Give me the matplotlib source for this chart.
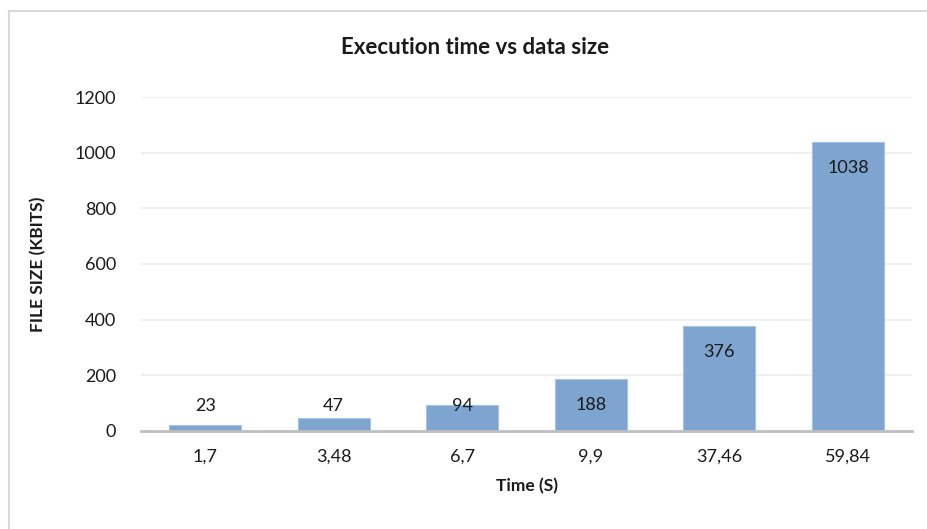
import numpy as np
import matplotlib.pyplot as plt
from matplotlib.lines import Line2D

# data
times = ["1,7", "3,48", "6,7", "9,9", "37,46", "59,84"]
file_size = [23, 47, 94, 188, 376, 1038]

plt.rcParams['font.family'] = ['Lato', 'DejaVu Sans']

fig = plt.figure(figsize=(9.27, 5.29), dpi=100)
ax = fig.add_axes([0.152, 0.1853, 0.832, 0.6313])

# chart border (only top and left visible)
fig.add_artist(Line2D([0.010, 1.0], [0.979, 0.979], color='#D9D9D9', lw=1.5))
fig.add_artist(Line2D([0.010, 0.010], [0.0, 0.979], color='#D9D9D9', lw=1.5))

x = np.arange(len(times))
bars = ax.bar(x, file_size, width=0.56, color='#7DA5D0', edgecolor='#A8C3E2', linewidth=0.8, zorder=3)

# value labels, Excel style "inside end"
for xi, v in zip(x, file_size):
    ax.text(xi, max(v - 93, 90), str(v), ha='center', va='center', fontsize=13, color='#1a1a1a', zorder=4)

ax.set_xlim(-0.5, len(times) - 0.5)
ax.set_ylim(0, 1200)
ax.set_yticks(range(0, 1201, 200))
ax.set_xticks(x)
ax.set_xticklabels(times)
ax.tick_params(axis='both', length=0, labelsize=13, colors='#1a1a1a')
ax.tick_params(axis='x', pad=13)
ax.tick_params(axis='y', pad=18)
ax.grid(axis='y', color='#EDEDED', linewidth=1.2, zorder=0)
for s in ['top', 'right', 'left']:
    ax.spines[s].set_visible(False)
ax.spines['bottom'].set_color('#BFBFBF')
ax.spines['bottom'].set_linewidth(2)
ax.spines['bottom'].set_zorder(5)

# title centred on the whole chart area
fig.text(0.512, 0.911, 'Execution time vs data size', fontsize=16, fontweight='bold',
         ha='center', va='center', color='#1a1a1a')
ax.set_xlabel('Time (S)', fontsize=12.5, fontweight='bold', labelpad=9, color='#1a1a1a')
ax.set_ylabel('FILE SIZE (KBITS)', fontsize=12.5, fontweight='bold', labelpad=20, color='#1a1a1a')

plt.savefig('out.png', dpi=100)
